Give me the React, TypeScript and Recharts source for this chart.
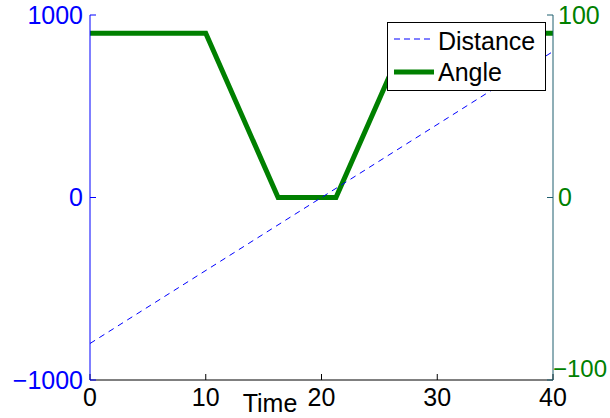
import { LineChart, Line, XAxis, YAxis, Legend } from "recharts";

// time samples and values
const distanceTime = [0, 40];
const distanceValues = [-800, 800];
const angleTime = [0, 10, 16.25, 21.25, 27.5, 40];
const angleValues = [90, 90, 0, 0, 90, 90];

const timeTicks = [0, 10, 20, 30, 40];
const distanceTicks = [-1000, 0, 1000];
const angleTicks = [-100, 0, 100];

const distanceData = distanceTime.map((t, i) => ({ time: t, distance: distanceValues[i] }));
const angleData = angleTime.map((t, i) => ({ time: t, angle: angleValues[i] }));

const FONT = "'Liberation Sans', Arial, Helvetica, sans-serif";
const BLUE = "#0000ff";
const GREEN = "#008000";
const FS = 25;

const fmt = (v: number) => (v < 0 ? "\u2212" + Math.abs(v) : String(v));

function RightTick(props: any) {
  const { x, y, payload } = props;
  // matlab puts the bottom label a bit higher than its tick, hugging the axis
  const low = payload.value === -100;
  return (
    <text
      x={low ? x - 5 : x}
      y={low ? y - 12 : y}
      dy="0.355em"
      textAnchor="start"
      fill={GREEN}
      fontSize={low ? 24 : FS}
      fontFamily={FONT}
    >
      {fmt(payload.value)}
    </text>
  );
}

function LegendBox() {
  return (
    <div style={{ width: 157, height: 67, border: "1px solid #000", background: "#fff" }}>
      <svg width={157} height={67} style={{ display: "block" }}>
        <line x1={6} x2={46} y1={16} y2={16} stroke={BLUE} strokeWidth={1} strokeDasharray="6 4" />
        <text x={50} y={27} fontSize={FS} fontFamily={FONT} fill="#000">Distance</text>
        <line x1={6} x2={46} y1={49} y2={49} stroke={GREEN} strokeWidth={5} />
        <text x={50} y={58} fontSize={FS} fontFamily={FONT} fill="#000">Angle</text>
      </svg>
    </div>
  );
}

export default function App() {
  return (
    <div style={{ position: "fixed", left: 0, top: 0, width: 610, height: 418, background: "#fff" }}>
      <LineChart width={610} height={418} margin={{ top: 15, right: 0, left: 0, bottom: 0 }}>
        <XAxis
          xAxisId="top"
          orientation="top"
          dataKey="time"
          type="number"
          domain={[0, 40]}
          ticks={timeTicks}
          height={0}
          tick={false}
          tickSize={-6}
          stroke="#000"
        />
        <XAxis
          dataKey="time"
          type="number"
          domain={[0, 40]}
          ticks={timeTicks}
          height={38}
          tickSize={-6}
          tickMargin={14}
          stroke="#000"
          tick={{ fill: "#000", fontSize: FS, fontFamily: FONT }}
          label={{
            content: () => (
              <text x={270} y={412} textAnchor="middle" fontSize={25} fontFamily={FONT} fill="#000">
                Time
              </text>
            ),
          }}
        />
        <YAxis
          yAxisId="left"
          type="number"
          domain={[-1000, 1000]}
          ticks={distanceTicks}
          width={90}
          tickSize={-6}
          tickMargin={13}
          stroke={BLUE}
          tickFormatter={fmt}
          tick={{ fill: BLUE, fontSize: FS, fontFamily: FONT }}
        />
        <YAxis
          yAxisId="right"
          orientation="right"
          type="number"
          domain={[-100, 100]}
          ticks={angleTicks}
          width={57}
          tickSize={-6}
          tickMargin={11}
          stroke="#1f5e6e"
          tick={<RightTick />}
        />
        <Line
          data={angleData}
          yAxisId="right"
          dataKey="angle"
          name="Angle"
          stroke={GREEN}
          strokeWidth={5}
          dot={false}
          type="linear"
          isAnimationActive={false}
        />
        <Line
          data={distanceData}
          yAxisId="left"
          dataKey="distance"
          name="Distance"
          stroke={BLUE}
          strokeWidth={1}
          strokeDasharray="6 5"
          dot={false}
          type="linear"
          isAnimationActive={false}
        />
        <Legend
          layout="vertical"
          align="center"
          verticalAlign="middle"
          content={() => <LegendBox />}
          wrapperStyle={{ position: "absolute", left: 387, top: 22, width: 159, height: 69 }}
        />
      </LineChart>
    </div>
  );
}
